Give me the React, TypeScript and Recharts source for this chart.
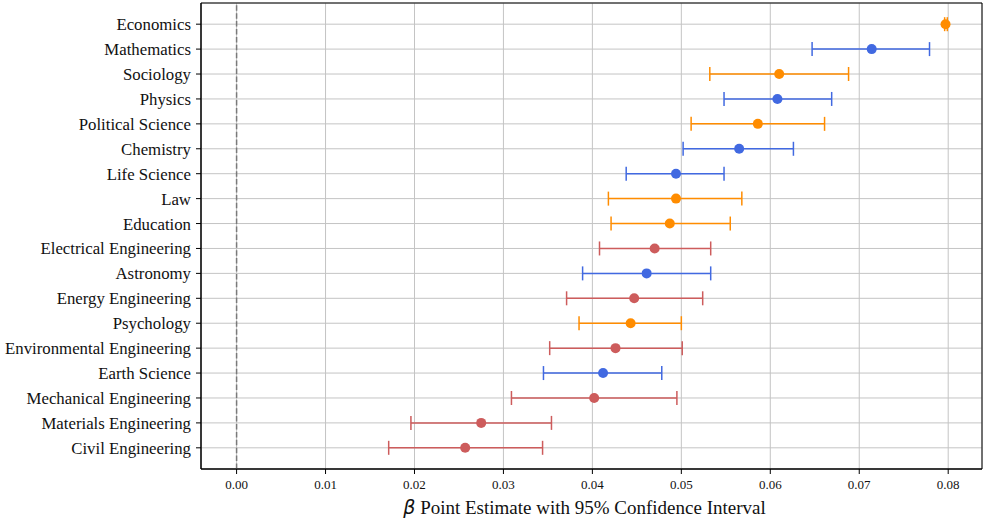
import React from "react";
import {
  ScatterChart,
  Scatter,
  XAxis,
  YAxis,
  CartesianGrid,
  ErrorBar,
  ReferenceLine,
  ReferenceArea,
  Label,
} from "recharts";

// fields, top to bottom
const fields = [
  "Economics",
  "Mathematics",
  "Sociology",
  "Physics",
  "Political Science",
  "Chemistry",
  "Life Science",
  "Law",
  "Education",
  "Electrical Engineering",
  "Astronomy",
  "Energy Engineering",
  "Psychology",
  "Environmental Engineering",
  "Earth Science",
  "Mechanical Engineering",
  "Materials Engineering",
  "Civil Engineering",
];

const estimates = [
  0.0797, 0.0714, 0.061, 0.0608, 0.0586, 0.0565, 0.0494, 0.0494, 0.0487,
  0.047, 0.0461, 0.0447, 0.0443, 0.0426, 0.0412, 0.0402, 0.0275, 0.0257,
];

const ciLow = [
  0.0796, 0.0647, 0.0532, 0.0548, 0.0511, 0.0502, 0.0438, 0.0418, 0.0421,
  0.0408, 0.0389, 0.0371, 0.0385, 0.0352, 0.0345, 0.0309, 0.0196, 0.0171,
];

const ciHigh = [
  0.0799, 0.0779, 0.0688, 0.0669, 0.0661, 0.0626, 0.0548, 0.0568, 0.0555,
  0.0533, 0.0533, 0.0524, 0.05, 0.0501, 0.0478, 0.0495, 0.0354, 0.0344,
];

// group: s = social science, n = natural science, e = engineering
const groups = [
  "s", "n", "s", "n", "s", "n", "n", "s", "s",
  "e", "n", "e", "s", "e", "n", "e", "e", "e",
];

const xTicks = [0, 0.01, 0.02, 0.03, 0.04, 0.05, 0.06, 0.07, 0.08];

const COLORS: Record<string, string> = {
  s: "#FF8C00",
  n: "#4169E1",
  e: "#CD5C5C",
};

const X_MIN = -0.004;
const X_MAX = 0.0838;
const Y_MIN = -0.85;
const Y_MAX = fields.length - 1 + 0.85;

function pointsFor(g: string) {
  return fields
    .map((name, i) => ({
      name,
      y: i,
      x: estimates[i],
      err: [estimates[i] - ciLow[i], ciHigh[i] - estimates[i]],
      g: groups[i],
    }))
    .filter((d) => d.g === g);
}

const serif = "'Liberation Serif', 'Times New Roman', serif";

export default function App() {
  return (
    <div style={{ position: "absolute", left: 0, top: 0, background: "#fff" }}>
      <ScatterChart
        width={985}
        height={519}
        margin={{ top: 3, right: 3, bottom: 0, left: 0 }}
      >
        <CartesianGrid stroke="#c4c4c4" strokeWidth={1} />
        <XAxis
          type="number"
          dataKey="x"
          domain={[X_MIN, X_MAX]}
          allowDataOverflow
          ticks={xTicks}
          interval={0}
          tickFormatter={(v: number) => v.toFixed(2)}
          height={50}
          tickSize={5}
          tickMargin={6}
          stroke="#000"
          tick={{ fill: "#111", fontFamily: serif, fontSize: 13 }}
        >
          <Label
            content={(props: any) => {
              const vb = props.viewBox || { x: 0, y: 0, width: 0, height: 0 };
              return (
                <text
                  x={vb.x + vb.width / 2 - 7}
                  y={vb.y + vb.height - 5}
                  textAnchor="middle"
                  fill="#111"
                  fontSize={19}
                  fontFamily={serif}
                >
                  <tspan fontFamily="'DejaVu Sans', sans-serif" fontStyle="italic">
                    β
                  </tspan>
                  <tspan> Point Estimate with 95% Confidence Interval</tspan>
                </text>
              );
            }}
          />
        </XAxis>
        <YAxis
          type="number"
          dataKey="y"
          domain={[Y_MIN, Y_MAX]}
          allowDataOverflow
          reversed
          ticks={fields.map((_, i) => i)}
          interval={0}
          tickFormatter={(v: number) => fields[v] ?? ""}
          width={201}
          tickSize={5}
          tickMargin={5}
          stroke="#000"
          tick={{ fill: "#111", fontFamily: serif, fontSize: 16.8 }}
        />
        <ReferenceLine
          x={0}
          stroke="#7a7a7a"
          strokeWidth={1.5}
          strokeDasharray="5.5 2.4"
        />
        <ReferenceArea
          x1={X_MIN}
          x2={X_MAX}
          y1={Y_MIN}
          y2={Y_MAX}
          fill="none"
          fillOpacity={0}
          stroke="#000"
          strokeWidth={1}
          ifOverflow="visible"
        />
        {["n", "s", "e"].map((g) => (
          <Scatter
            key={g}
            data={pointsFor(g)}
            fill={COLORS[g]}
            isAnimationActive={false}
            shape={(p: any) => (
              <circle cx={p.cx} cy={p.cy} r={5} fill={COLORS[g]} />
            )}
          >
            <ErrorBar
              dataKey="err"
              direction="x"
              width={7}
              stroke={COLORS[g]}
              strokeWidth={1.5}
              isAnimationActive={false}
            />
          </Scatter>
        ))}
      </ScatterChart>
    </div>
  );
}
